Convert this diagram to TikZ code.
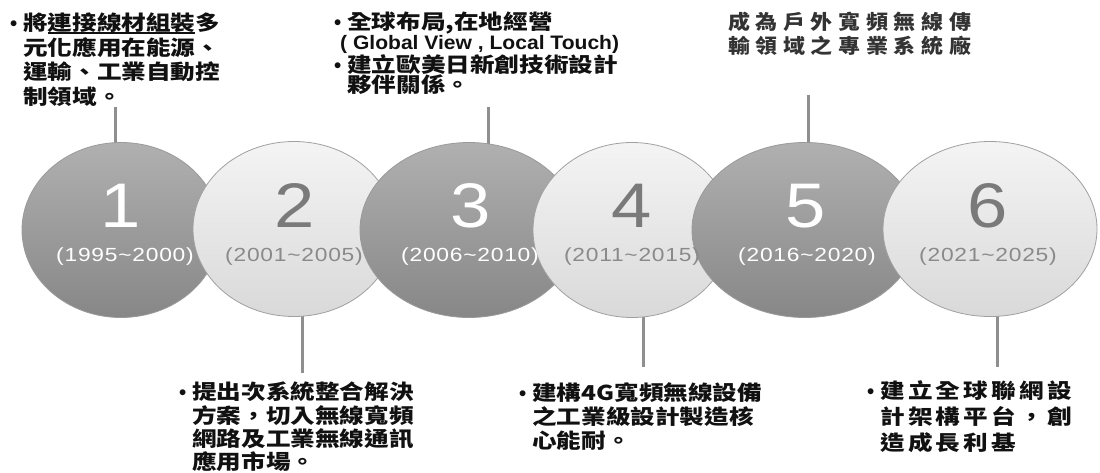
\documentclass[tikz,border=0pt]{standalone}
\usepackage{fontspec}
\usetikzlibrary{shapes.geometric}
\newfontfamily\cjk[FakeStretch=1.2]{Noto Sans CJK TC}
\newfontfamily\cjksix[FakeStretch=1.2,LetterSpace=16]{Noto Sans CJK TC}
\newfontfamily\cjkwide[FakeStretch=1.1,LetterSpace=28]{Noto Sans CJK TC}
\newfontfamily\numfont[FakeStretch=1.15]{Liberation Sans}
\newfontfamily\yearfont[FakeStretch=1.2,LetterSpace=4]{Liberation Sans}
\newfontfamily\latb[FakeStretch=1.08]{Liberation Sans}
\newfontfamily\bulfont{Liberation Sans}
\definecolor{darktop}{HTML}{B0B0B0}
\definecolor{darkbot}{HTML}{878787}
\definecolor{lighttop}{HTML}{F4F4F4}
\definecolor{lightbot}{HTML}{D9D9D9}
\definecolor{darkedge}{HTML}{9A9A9A}
\definecolor{lightedge}{HTML}{A0A0A0}
\definecolor{numgray}{HTML}{7A7A7A}
\definecolor{yeargray}{HTML}{8A8A8A}
\definecolor{conngray}{HTML}{8F8F8F}
\definecolor{txtdark}{HTML}{111111}
\definecolor{txtgray}{HTML}{333333}
\newcommand\bul{\llap{{\bulfont •}\hspace{6pt}}}
\newcommand\ulx[1]{\setbox0\hbox{#1}\rlap{\color{txtdark}\rule[-2.8pt]{\wd0}{1.6pt}}\box0}
\pgfdeclarelayer{bg}
\pgfdeclarelayer{paper}
\pgfsetlayers{paper,bg,main}
\tikzset{
  circ/.style={ellipse, minimum height=175, inner sep=0, line width=0.8},
  darkc/.style={circ, draw=darkedge, top color=darktop, bottom color=darkbot},
  lightc/.style={circ, draw=lightedge, top color=lighttop, bottom color=lightbot},
  numd/.style={font=\numfont\fontsize{63}{63}\selectfont, text=white, anchor=base, inner sep=0},
  numl/.style={numd, text=numgray},
  yeard/.style={font=\yearfont\fontsize{19}{19}\selectfont, text=white, anchor=base, inner sep=0},
  yearl/.style={yeard, text=yeargray},
  conn/.style={draw=conngray, line width=3},
  txt/.style={align=left, anchor=north west, inner sep=0, text=txtdark},
}
\begin{document}
\begin{tikzpicture}[x=1pt,y=-1pt]
\useasboundingbox (0,0) rectangle (1100,472);
\begin{pgfonlayer}{paper}
\fill[white] (0,0) rectangle (1100,472);
\end{pgfonlayer}

% circles
\node[darkc,  minimum width=198] (c1) at (121,230) {};
\node[lightc, minimum width=202] (c2) at (294,229) {};
\node[darkc,  minimum width=218] (c3) at (469,230) {};
\node[lightc, minimum width=198] (c4) at (632,230) {};
\node[darkc,  minimum width=226] (c5) at (805,230) {};
\node[lightc, minimum width=214] (c6) at (990,229) {};

% numbers
\node[numd] (n1) at (121,227) {1};
\node[numl] (n2) at (295,227) {2};
\node[numd] (n3) at (471,227) {3};
\node[numl] (n4) at (632,227) {4};
\node[numd] (n5) at (806,227) {5};
\node[numl] (n6) at (988,227) {6};

% years
\node[yeard] (y1) at (125,261) {(1995\textasciitilde2000)};
\node[yearl] (y2) at (294,261) {(2001\textasciitilde2005)};
\node[yeard] (y3) at (470,261) {(2006\textasciitilde2010)};
\node[yearl] (y4) at (632,261) {(2011\textasciitilde2015)};
\node[yeard] (y5) at (807,261) {(2016\textasciitilde2020)};
\node[yearl] (y6) at (988,261) {(2021\textasciitilde2025)};

% connectors
\coordinate (t1) at (115,107);
\coordinate (t3) at (488,107);
\coordinate (t5) at (808,95);
\coordinate (d2) at (302,373);
\coordinate (d4) at (643,367);
\coordinate (d6) at (997,367);
\begin{pgfonlayer}{bg}
\draw[conn] (t1) -- (t1 |- c1.center);
\draw[conn] (t3) -- (t3 |- c3.center);
\draw[conn] (t5) -- (t5 |- c5.center);
\draw[conn] (d2 |- c2.center) -- (d2);
\draw[conn] (d4 |- c4.center) -- (d4);
\draw[conn] (d6 |- c6.center) -- (d6);
\end{pgfonlayer}

% texts
\node[txt, font=\cjk\bfseries\fontsize{20.5}{24.5}\selectfont] (b1) at (23,13)
  {\bul 將\ulx{連接線材組裝}多\\元化應用在能源、\\運輸、工業自動控\\制領域。};
\node[txt, font=\cjk\bfseries\fontsize{20.5}{19.5}\selectfont] (b2) at (347,12)
  {\bul 全球布局,在地經營\\\hspace*{-7pt}{\latb\bfseries\fontsize{19.5}{19.5}\selectfont ( Global View , Local Touch)}\\\bul 建立歐美日新創技術設計\\夥伴關係。};
\node[txt, text=txtgray, font=\cjkwide\bfseries\fontsize{20}{24}\selectfont] (b3) at (728,12)
  {成為戶外寬頻無線傳\\輸領域之專業系統廠};
\node[txt, font=\cjk\bfseries\fontsize{20.5}{23.3}\selectfont] (b4) at (192,382)
  {\bul 提出次系統整合解決\\方案，切入無線寬頻\\網路及工業無線通訊\\應用市場。};
\node[txt, font=\cjk\bfseries\fontsize{20.5}{24}\selectfont] (b5) at (532,382)
  {\bul 建構4G寬頻無線設備\\之工業級設計製造核\\心能耐。};
\node[txt, font=\cjksix\bfseries\fontsize{20.5}{26}\selectfont] (b6) at (880,380)
  {\bul 建立全球聯網設\\計架構平台，創\\造成長利基};
\end{tikzpicture}
\end{document}
